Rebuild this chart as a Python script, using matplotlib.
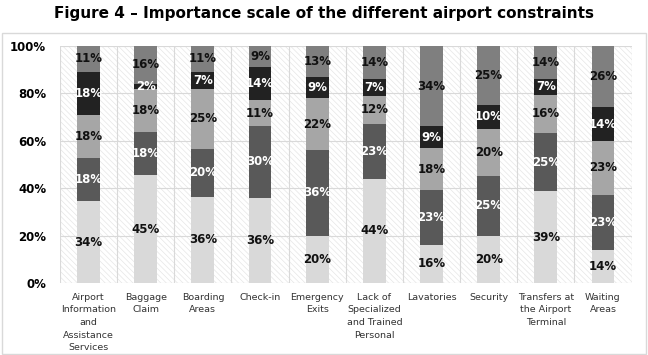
import matplotlib
matplotlib.use('Agg')
import matplotlib.pyplot as plt
from matplotlib.patches import Rectangle
import numpy as np

categories = ['Airport\nInformation\nand\nAssistance\nServices', 'Baggage\nClaim',
              'Boarding\nAreas', 'Check-in', 'Emergency\nExits',
              'Lack of\nSpecialized\nand Trained\nPersonal', 'Lavatories',
              'Security', 'Transfers at\nthe Airport\nTerminal', 'Waiting\nAreas']

# stacked from bottom to top
s1 = [34, 45, 36, 36, 20, 44, 16, 20, 39, 14]
s2 = [18, 18, 20, 30, 36, 23, 23, 25, 25, 23]
s3 = [18, 18, 25, 11, 22, 12, 18, 20, 16, 23]
s4 = [18, 2, 7, 14, 9, 7, 9, 10, 7, 14]
s5 = [11, 16, 11, 9, 13, 14, 34, 25, 14, 26]

series = [s1, s2, s3, s4, s5]
colors = ['#d9d9d9', '#595959', '#a6a6a6', '#222222', '#7f7f7f']
text_colors = ['#111111', 'white', '#111111', 'white', '#111111']

plt.rcParams['hatch.linewidth'] = 0.5

fig = plt.figure(figsize=(6.48, 3.55), dpi=100)
ax = fig.add_axes([0.0926, 0.203, 0.882, 0.668])

vals = np.array(series, dtype=float)
totals = vals.sum(axis=0)
pct = vals / totals * 100
x = np.arange(len(categories))

# hatched plot background
ax.add_patch(Rectangle((0, 0), 1, 1, transform=ax.transAxes, facecolor='white',
                       edgecolor='#e6e6e6', hatch='\\\\\\\\\\\\', lw=0, zorder=0))

bottom = np.zeros(len(categories))
for i in range(len(series)):
    ax.bar(x, pct[i], 0.4, bottom=bottom, color=colors[i], zorder=3)
    for j in range(len(categories)):
        ax.text(x[j], bottom[j] + pct[i][j] / 2, '%d%%' % series[i][j],
                ha='center', va='center', fontsize=8.5, fontweight='bold',
                color=text_colors[i], zorder=4)
    bottom += pct[i]

ax.set_xlim(-0.5, len(categories) - 0.5)
ax.set_ylim(0, 100)
ax.set_yticks([0, 20, 40, 60, 80, 100])
ax.set_yticklabels(['0%', '20%', '40%', '60%', '80%', '100%'], fontsize=8.5,
                   fontweight='bold')
ax.set_xticks(x)
ax.set_xticklabels(categories, fontsize=6.8, color='#333333', linespacing=1.53)
ax.tick_params(length=0, pad=7)
ax.tick_params(axis='y', pad=10)

for y in [20, 40, 60, 80, 100]:
    ax.axhline(y, color='#d9d9d9', lw=0.8, zorder=1)
for xv in np.arange(-0.5, len(categories), 1):
    ax.axvline(xv, color='#d9d9d9', lw=0.8, zorder=1)
for s in ax.spines.values():
    s.set_visible(False)
ax.axhline(0, color='#d9d9d9', lw=0.8, zorder=1)

fig.text(0.5, 0.962, 'Figure 4 \u2013 Importance scale of the different airport constraints',
         ha='center', va='center', fontsize=11, fontweight='bold')

fig.add_artist(Rectangle((0.003, 0.003), 0.994, 0.905, transform=fig.transFigure,
                         fill=False, edgecolor='#d9d9d9', lw=1))

fig.savefig('out.png', dpi=100)
